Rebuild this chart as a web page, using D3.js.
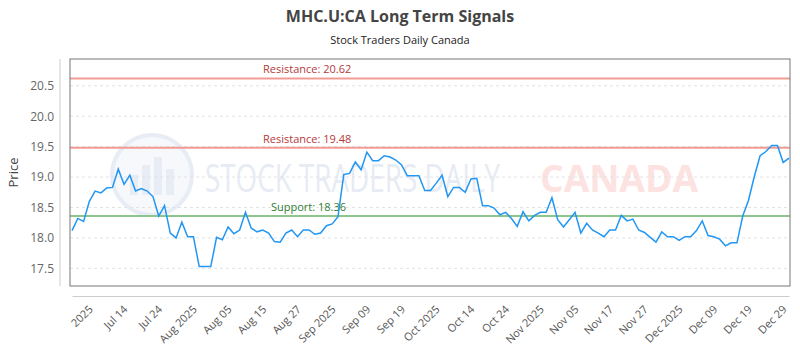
<!DOCTYPE html>
<html>
<head>
<meta charset="utf-8">
<script src="https://cdn.jsdelivr.net/npm/d3@7"></script>
<style>
  body { margin: 0; background: #fff; }
  text { font-family: "Open Sans", sans-serif; }
</style>
</head>
<body>
<svg width="800" height="350"></svg>
<script>
// closing prices, one per trading day
const prices = [
  18.12, 18.32, 18.27, 18.60, 18.77, 18.74, 18.82, 18.83, 19.13, 18.88,
  19.03, 18.77, 18.81, 18.77, 18.68, 18.36, 18.53, 18.08, 18.00, 18.26,
  18.02, 18.02, 17.53, 17.53, 17.53, 18.01, 17.97, 18.18, 18.07, 18.13,
  18.42, 18.16, 18.10, 18.13, 18.08, 17.94, 17.93, 18.08, 18.13, 18.02,
  18.13, 18.13, 18.06, 18.08, 18.20, 18.23, 18.35, 19.04, 19.06, 19.25,
  19.12, 19.41, 19.27, 19.27, 19.35, 19.33, 19.28, 19.20, 19.02, 19.02,
  19.02, 18.78, 18.78, 18.90, 19.03, 18.68, 18.83, 18.83, 18.75, 18.97,
  18.98, 18.53, 18.53, 18.49, 18.38, 18.42, 18.32, 18.19, 18.43, 18.28,
  18.37, 18.42, 18.42, 18.66, 18.30, 18.18, 18.30, 18.42, 18.08, 18.24,
  18.13, 18.08, 18.02, 18.13, 18.13, 18.37, 18.28, 18.31, 18.13, 18.09,
  18.01, 17.93, 18.10, 18.02, 18.02, 17.96, 18.02, 18.02, 18.12, 18.28,
  18.04, 18.02, 17.98, 17.87, 17.92, 17.92, 18.36, 18.62, 19.01, 19.35,
  19.42, 19.52, 19.52, 19.24, 19.31
];

const tickLabels = [
  '2025', 'Jul 14', 'Jul 24', 'Aug 2025', 'Aug 05', 'Aug 15', 'Aug 27',
  'Sep 2025', 'Sep 09', 'Sep 19', 'Oct 2025', 'Oct 14', 'Oct 24',
  'Nov 2025', 'Nov 05', 'Nov 17', 'Nov 27', 'Dec 2025', 'Dec 09',
  'Dec 19', 'Dec 29'
];
const labelEvery = 6;
const firstLabelIndex = 4;

const yTicks = [17.5, 18.0, 18.5, 19.0, 19.5, 20.0, 20.5];

const levels = [
  {name: 'Resistance', value: 20.62},
  {name: 'Resistance', value: 19.48},
  {name: 'Support', value: 18.36}
];

const svg = d3.select('svg');
const width = +svg.attr('width');
const height = +svg.attr('height');

const margin = {top: 59, right: 10, bottom: 64, left: 70};
const innerWidth = width - margin.left - margin.right;
const innerHeight = height - margin.top - margin.bottom;

const xScale = d3.scaleLinear()
  .domain([0, prices.length - 1])
  .range([2, innerWidth - 1]);

const yScale = d3.scaleLinear()
  .domain([17.21, 20.94])
  .range([innerHeight, 0]);

// titles
svg.append('text')
  .attr('x', width / 2).attr('y', 22)
  .attr('text-anchor', 'middle')
  .attr('font-size', 16).attr('font-weight', 'bold')
  .attr('fill', '#444')
  .text('MHC.U:CA Long Term Signals');

svg.append('text')
  .attr('x', width / 2).attr('y', 44)
  .attr('text-anchor', 'middle')
  .attr('font-size', 11)
  .attr('fill', '#222')
  .text('Stock Traders Daily Canada');

const g = svg.append('g')
  .attr('transform', `translate(${margin.left},${margin.top})`);

// watermark
const wm = g.append('g');
wm.append('circle')
  .attr('cx', 82).attr('cy', 116).attr('r', 40)
  .attr('fill', '#f6f8fc').attr('stroke', '#e8ecf5').attr('stroke-width', 4);
[[-18, 20], [-6, 30], [6, 38], [18, 26]].forEach(([dx, h]) => {
  wm.append('rect')
    .attr('x', 82 + dx - 4).attr('y', 136 - h)
    .attr('width', 8).attr('height', h)
    .attr('fill', '#e8ecf5');
});
wm.append('text')
  .attr('x', 135).attr('y', 133)
  .attr('font-size', 38)
  .attr('textLength', 295).attr('lengthAdjust', 'spacingAndGlyphs')
  .attr('fill', '#e7ebf3')
  .text('STOCK TRADERS DAILY');
wm.append('text')
  .attr('x', 470).attr('y', 133)
  .attr('font-size', 38).attr('font-weight', 'bold')
  .attr('textLength', 158).attr('lengthAdjust', 'spacingAndGlyphs')
  .attr('fill', '#fde2e2')
  .text('CANADA');

// grid
g.append('g')
  .selectAll('line').data(yTicks)
  .enter().append('line')
    .attr('x1', 0).attr('x2', innerWidth)
    .attr('y1', d => yScale(d)).attr('y2', d => yScale(d))
    .attr('stroke', '#e2e2e2')
    .attr('stroke-dasharray', '3,3');

// y axis
const yAxis = d3.axisLeft(yScale)
  .tickValues(yTicks)
  .tickFormat(d3.format('.1f'))
  .tickSize(0)
  .tickPadding(16);

const yAxisG = g.append('g').call(yAxis);
yAxisG.select('.domain').remove();
yAxisG.selectAll('text')
  .attr('font-size', 12).attr('fill', '#666')
  .attr('font-family', '"Open Sans", sans-serif');

g.append('line')
  .attr('x1', -10).attr('x2', -10)
  .attr('y1', 0).attr('y2', innerHeight)
  .attr('stroke', '#ccc');

g.append('text')
  .attr('transform', `translate(-52,${innerHeight / 2}) rotate(-90)`)
  .attr('text-anchor', 'middle')
  .attr('font-size', 13).attr('fill', '#444')
  .text('Price');

// x axis
const tickIdx = tickLabels.map((_, i) => firstLabelIndex + i * labelEvery);
const xAxis = d3.axisBottom(xScale)
  .tickValues(tickIdx)
  .tickFormat((d, i) => tickLabels[i])
  .tickSize(0)
  .tickPadding(0);

const xAxisG = g.append('g')
  .attr('transform', `translate(0,${innerHeight + 10})`)
  .call(xAxis);
xAxisG.select('.domain').attr('stroke', '#ccc');
xAxisG.selectAll('text')
  .attr('font-size', 11).attr('fill', '#555')
  .attr('font-family', '"Open Sans", sans-serif')
  .attr('text-anchor', 'end')
  .attr('dy', 0)
  .attr('transform', 'translate(-2,14) rotate(-45)');

// support / resistance levels
const levelColor = d => d.name === 'Support' ? '#8cc68a' : '#f29b95';
const labelColor = d => d.name === 'Support' ? '#2e7d32' : '#b33a3a';

g.append('g').selectAll('line').data(levels)
  .enter().append('line')
    .attr('x1', 0).attr('x2', innerWidth)
    .attr('y1', d => yScale(d.value)).attr('y2', d => yScale(d.value))
    .attr('stroke', levelColor)
    .attr('stroke-width', 2);

g.append('g').selectAll('text').data(levels)
  .enter().append('text')
    .attr('x', d => d.name === 'Support' ? 201 : 193)
    .attr('y', d => yScale(d.value) - 5)
    .attr('font-size', 11)
    .attr('fill', labelColor)
    .text(d => `${d.name}: ${d.value.toFixed(2)}`);

// price line
const line = d3.line()
  .x((d, i) => xScale(i))
  .y(d => yScale(d));

g.append('path')
  .datum(prices)
  .attr('fill', 'none')
  .attr('stroke', '#2196f3')
  .attr('stroke-width', 1.5)
  .attr('d', line);

// plot frame
g.append('rect')
  .attr('x', 0).attr('y', 0)
  .attr('width', innerWidth).attr('height', innerHeight)
  .attr('fill', 'none')
  .attr('stroke', '#777');
</script>
</body>
</html>
